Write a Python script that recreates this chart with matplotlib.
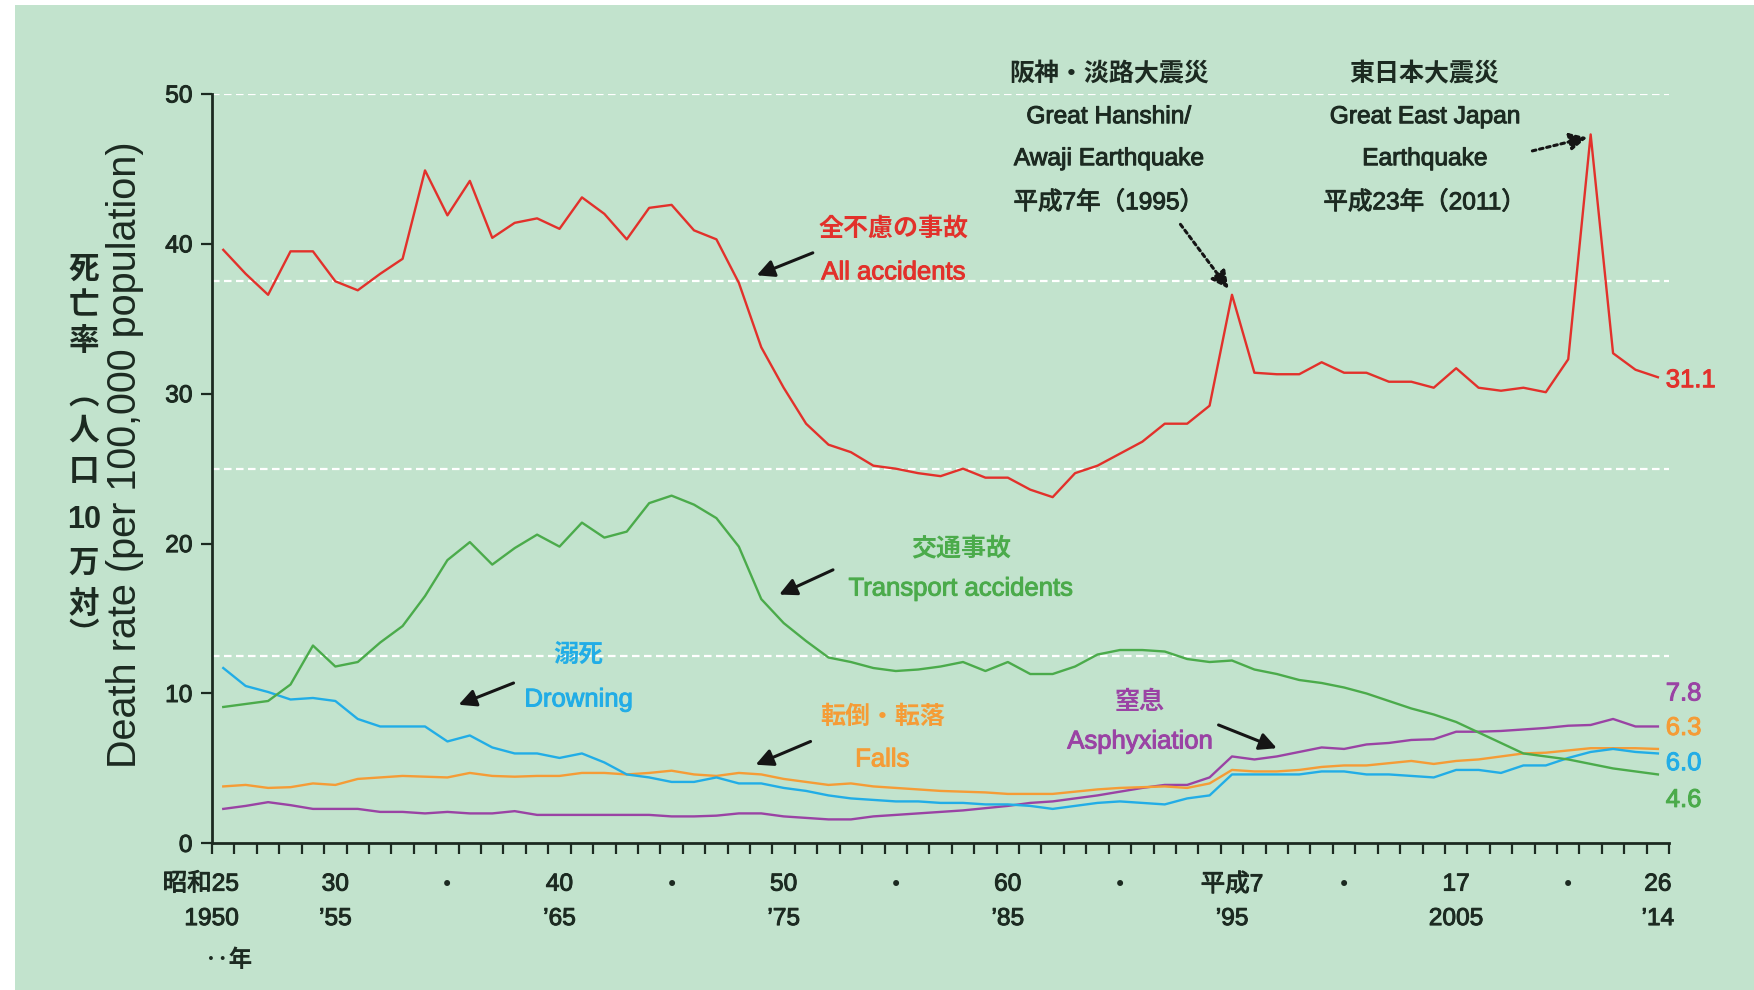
# -*- coding: utf-8 -*-

import matplotlib
matplotlib.use('Agg')

import matplotlib.pyplot as plt
import matplotlib.patheffects as pe
from matplotlib import font_manager
from matplotlib.patches import Rectangle


# ---- data (rates per 100,000 population), 1950 .. 2014 ----
YEARS = list(range(1950, 2015))

ALL_ACCIDENTS = [
    39.6, 38.0, 36.6, 39.5, 39.5, 37.5, 36.9, 38.0, 39.0, 44.9,
    41.9, 44.2, 40.4, 41.4, 41.7, 41.0, 43.1, 42.0, 40.3, 42.4,
    42.6, 40.9, 40.3, 37.4, 33.1, 30.4, 28.0, 26.6, 26.1, 25.2,
    25.0, 24.7, 24.5, 25.0, 24.4, 24.4, 23.6, 23.1, 24.7, 25.2,
    26.0, 26.8, 28.0, 28.0, 29.2, 36.6, 31.4, 31.3, 31.3, 32.1,
    31.4, 31.4, 30.8, 30.8, 30.4, 31.7, 30.4, 30.2, 30.4, 30.1,
    32.3, 47.3, 32.7, 31.6, 31.1,
]
TRANSPORT = [
    9.1, 9.3, 9.5, 10.6, 13.2, 11.8, 12.1, 13.4, 14.5, 16.5,
    18.9, 20.1, 18.6, 19.7, 20.6, 19.8, 21.4, 20.4, 20.8, 22.7,
    23.2, 22.6, 21.7, 19.8, 16.3, 14.7, 13.5, 12.4, 12.1, 11.7,
    11.5, 11.6, 11.8, 12.1, 11.5, 12.1, 11.3, 11.3, 11.8, 12.6,
    12.9, 12.9, 12.8, 12.3, 12.1, 12.2, 11.6, 11.3, 10.9, 10.7,
    10.4, 10.0, 9.5, 9.0, 8.6, 8.1, 7.4, 6.7, 6.0, 5.8,
    5.6, 5.3, 5.0, 4.8, 4.6,
]
DROWNING = [
    11.7, 10.5, 10.1, 9.6, 9.7, 9.5, 8.3, 7.8, 7.8, 7.8,
    6.8, 7.2, 6.4, 6.0, 6.0, 5.7, 6.0, 5.4, 4.6, 4.4,
    4.1, 4.1, 4.4, 4.0, 4.0, 3.7, 3.5, 3.2, 3.0, 2.9,
    2.8, 2.8, 2.7, 2.7, 2.6, 2.6, 2.5, 2.3, 2.5, 2.7,
    2.8, 2.7, 2.6, 3.0, 3.2, 4.6, 4.6, 4.6, 4.6, 4.8,
    4.8, 4.6, 4.6, 4.5, 4.4, 4.9, 4.9, 4.7, 5.2, 5.2,
    5.7, 6.1, 6.3, 6.1, 6.0,
]
FALLS = [
    3.8, 3.9, 3.7, 3.75, 4.0, 3.9, 4.3, 4.4, 4.5, 4.45,
    4.4, 4.7, 4.5, 4.45, 4.5, 4.5, 4.7, 4.7, 4.6, 4.7,
    4.85, 4.6, 4.5, 4.7, 4.6, 4.3, 4.1, 3.9, 4.0, 3.8,
    3.7, 3.6, 3.5, 3.45, 3.4, 3.3, 3.3, 3.3, 3.45, 3.6,
    3.7, 3.75, 3.8, 3.7, 4.0, 4.9, 4.8, 4.8, 4.9, 5.1,
    5.2, 5.2, 5.35, 5.5, 5.3, 5.5, 5.6, 5.8, 6.0, 6.05,
    6.2, 6.35, 6.35, 6.35, 6.3,
]
ASPHYXIATION = [
    2.3, 2.5, 2.75, 2.55, 2.3, 2.3, 2.3, 2.1, 2.1, 2.0,
    2.1, 2.0, 2.0, 2.15, 1.9, 1.9, 1.9, 1.9, 1.9, 1.9,
    1.8, 1.8, 1.85, 2.0, 2.0, 1.8, 1.7, 1.6, 1.6, 1.8,
    1.9, 2.0, 2.1, 2.2, 2.35, 2.5, 2.7, 2.8, 3.0, 3.2,
    3.45, 3.7, 3.9, 3.9, 4.4, 5.8, 5.6, 5.8, 6.1, 6.4,
    6.3, 6.6, 6.7, 6.9, 6.95, 7.45, 7.45, 7.5, 7.6, 7.7,
    7.85, 7.9, 8.3, 7.8, 7.8,
]

END_LABELS = ['31.1', '7.8', '6.3', '6.0', '4.6']

Y_TICKS = [0, 10, 20, 30, 40, 50]
X_LABEL_YEARS = [1950, 1955, 1960, 1965, 1970, 1975, 1980, 1985, 1990, 1995, 2000, 2005, 2010, 2014]
X_LABEL_TOP = ['昭和25', '30', '•', '40', '•', '50', '•', '60', '•', '平成7', '•', '17', '•', '26']
X_LABEL_BOTTOM = ['1950', '’55', '', '’65', '', '’75', '', '’85', '', '’95', '', '2005', '', '’14']

# ---- style ----
BG = '#c2e3cd'
DARK = '#1c2a21'
RED = '#e2312b'
GREEN = '#4bab4b'
BLUE = '#22ade6'
ORANGE = '#f59c36'
PURPLE = '#9a43a4'

FONT_NAMES = {f.name for f in font_manager.fontManager.ttflist}
NARROW = 'Liberation Sans Narrow' if 'Liberation Sans Narrow' in FONT_NAMES else 'Liberation Sans'
K = 1.0 if NARROW == 'Liberation Sans Narrow' else 0.84
JP = 'Noto Sans CJK JP'
MIXED = [NARROW, JP]


def _heavy(color, width=0.7):
    # thicken the strokes a little, the original lettering is a heavier condensed face
    return [pe.withStroke(linewidth=width, foreground=color)]


def _arrow(ax, tail, head, dotted=False):
    props = dict(arrowstyle='-|>', color='#151515', lw=2.2, mutation_scale=26,
                 shrinkA=0, shrinkB=0)
    if dotted:
        props['linestyle'] = (0, (1.2, 1.2))
    ax.annotate('', xy=head, xytext=tail, arrowprops=props, zorder=6)


def main():

    fig = plt.figure(figsize=(17.54, 9.90), dpi=100)
    fig.patch.set_facecolor('white')
    fig.add_artist(Rectangle((15 / 1754, 0), 1, 1 - 5 / 990, transform=fig.transFigure,
                             facecolor=BG, edgecolor='none', zorder=-10))

    ax = fig.add_axes([0.1209, 0.1481, 0.8307, 0.7570])
    ax.set_facecolor(BG)
    ax.set_xlim(1949.5, 2014.5)
    ax.set_ylim(0, 50)

    for side in ('top', 'right'):
        ax.spines[side].set_visible(False)
    for side in ('left', 'bottom'):
        ax.spines[side].set_color(DARK)
        ax.spines[side].set_linewidth(2.0)

    ax.set_yticks(Y_TICKS)
    ax.set_yticklabels([str(v) for v in Y_TICKS], family=NARROW, fontsize=21 * K, color=DARK,
                       path_effects=_heavy(DARK))
    ax.set_xticks([y + 0.5 for y in range(1949, 2015)])
    ax.set_xticklabels([])
    ax.tick_params(axis='both', direction='out', length=8, width=1.6, color=DARK, pad=6)

    # dashed white guides
    for v in (12.5, 25, 37.5, 50):
        ax.axhline(v, color='white', lw=1.6, linestyle=(0, (3.4, 2.0)), zorder=1)

    series = [
        (ASPHYXIATION, PURPLE),
        (FALLS, ORANGE),
        (DROWNING, BLUE),
        (TRANSPORT, GREEN),
        (ALL_ACCIDENTS, RED),
    ]
    for values, color in series:
        ax.plot(YEARS, values, color=color, lw=1.7, zorder=3)

    # x tick labels (era / western year)
    for year, top, bottom in zip(X_LABEL_YEARS, X_LABEL_TOP, X_LABEL_BOTTOM):
        xpos, ha = (year, 'center')
        if year == 1950:
            xpos, ha = (1950.7, 'right')
        if top == '•':
            ax.text(year, -2.75, top, ha='center', va='center', family='DejaVu Sans',
                    fontsize=15, color=DARK)
            continue
        ax.text(xpos, -2.75, top, ha=ha, va='center', family=MIXED, fontsize=21 * K, color=DARK,
                path_effects=_heavy(DARK))
        ax.text(xpos, -5.05, bottom, ha=ha, va='center', family=MIXED, fontsize=21 * K, color=DARK,
                path_effects=_heavy(DARK))
    ax.text(1950.25, -7.8, '‥年', ha='center', va='center', family=JP, weight='bold',
            fontsize=17, color=DARK)

    # y axis titles
    fig.text(125 / 1754, 1 - 455 / 990, 'Death rate (per 100,000 population)', rotation=90,
             ha='center', va='center', family='Liberation Sans', fontsize=28.5, color=DARK)
    jp_chars = [('死', 270), ('亡', 306), ('率', 342), ('︵', 396), ('人', 432), ('口', 472),
                ('10', 520), ('万', 564), ('対', 605), ('︶', 636)]
    for ch, ypx in jp_chars:
        fig.text(84 / 1754, 1 - ypx / 990, ch, ha='center', va='center',
                 family=MIXED, weight='bold', fontsize=22, color=DARK)

    # series annotations
    notes = [
        ('全不慮の事故', 'All accidents', RED, 1979.9, 41.0, 38.1, (1976.3, 39.4), (1973.8, 37.9)),
        ('交通事故', 'Transport accidents', GREEN, 1982.9, 19.6, 17.0, (1977.2, 18.25), (1974.8, 16.6)),
        ('溺死', 'Drowning', BLUE, 1965.85, 12.6, 9.6, (1962.95, 10.7), (1960.5, 9.25)),
        ('転倒・転落', 'Falls', ORANGE, 1979.4, 8.4, 5.6, (1976.2, 6.8), (1973.75, 5.25)),
        ('窒息', 'Asphyxiation', PURPLE, 1990.9, 9.4, 6.8, (1994.4, 7.9), (1997.0, 6.35)),
    ]
    for jp, en, color, xpos, yjp, yen, tail, head in notes:
        ax.text(xpos, yjp, jp, ha='center', va='center', family=JP, weight='bold',
                fontsize=18, color=color, zorder=5)
        ax.text(xpos, yen, en, ha='center', va='center', family=MIXED,
                fontsize=22 * K, color=color, zorder=5, path_effects=_heavy(color))
        _arrow(ax, tail, head)

    # earthquake notes
    quakes = [
        (1989.5, ['阪神・淡路大震災', 'Great Hanshin/', 'Awaji Earthquake', '平成7年（1995）'],
         (1992.7, 41.3), (1994.85, 37.0)),
        (2003.6, ['東日本大震災', 'Great East Japan', 'Earthquake', '平成23年（2011）'],
         (2008.4, 46.2), (2010.85, 47.1)),
    ]
    for xpos, lines, tail, head in quakes:
        for text, ypos in zip(lines, (51.3, 48.45, 45.65, 42.75)):
            bold = text == lines[0]
            ax.text(xpos, ypos, text, ha='center', va='center', family=MIXED,
                    weight='bold' if bold else 'normal',
                    fontsize=(18 if bold else 21 * K), color=DARK, zorder=5,
                    path_effects=None if bold else _heavy(DARK))
        _arrow(ax, tail, head, dotted=True)

    # end values
    end_pos = [(RED, 30.9), (PURPLE, 10.0), (ORANGE, 7.7), (BLUE, 5.35), (GREEN, 2.9)]
    for text, (color, ypos) in zip(END_LABELS, end_pos):
        ax.text(2014.35, ypos, text, ha='left', va='center', family=NARROW,
                fontsize=22 * K, color=color, zorder=5, path_effects=_heavy(color))

    fig.savefig('out.png', dpi=100, facecolor=fig.get_facecolor())


if __name__ == '__main__':
    main()
